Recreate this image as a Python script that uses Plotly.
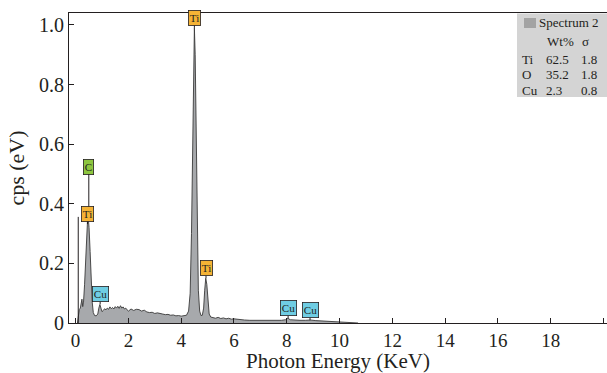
import plotly.graph_objects as go

# ---- data ----
energy = [0.07, 0.10, 0.14, 0.18, 0.21, 0.24, 0.27, 0.30, 0.34, 0.38, 0.42, 0.45, 0.48, 0.51, 0.55,
          0.59, 0.63, 0.67, 0.72, 0.78, 0.84, 0.88, 0.92, 0.96, 1.00, 1.05, 1.10, 1.15, 1.20, 1.25,
          1.30, 1.35, 1.40, 1.45, 1.50, 1.55, 1.60, 1.65, 1.70, 1.75, 1.80, 1.85, 1.90, 1.95, 2.00,
          2.10, 2.20, 2.30, 2.40, 2.50, 2.60, 2.70, 2.80, 2.90, 3.00, 3.10, 3.20, 3.30, 3.40, 3.50,
          3.60, 3.70, 3.80, 3.90, 4.00, 4.10, 4.20, 4.28, 4.34, 4.39, 4.43, 4.47, 4.50, 4.53, 4.57,
          4.61, 4.65, 4.70, 4.75, 4.80, 4.85, 4.89, 4.93, 4.97, 5.01, 5.06, 5.12, 5.20, 5.30, 5.40,
          5.50, 5.60, 5.70, 5.80, 5.90, 6.00, 6.20, 6.40, 6.60, 6.80, 7.00, 7.20, 7.40, 7.60, 7.80,
          7.95, 8.04, 8.13, 8.30, 8.50, 8.70, 8.90, 9.10, 9.30, 9.50, 9.70, 9.90, 10.10, 10.30, 10.50,
          10.70]
cps = [0.0, 0.03, 0.045, 0.05, 0.075, 0.08, 0.055, 0.07, 0.13, 0.22, 0.30, 0.34, 0.35, 0.32, 0.24,
       0.14, 0.07, 0.035, 0.025, 0.024, 0.03, 0.05, 0.062, 0.05, 0.038, 0.042, 0.048, 0.044, 0.05, 0.046,
       0.054, 0.048, 0.052, 0.047, 0.055, 0.05, 0.056, 0.049, 0.058, 0.05, 0.054, 0.047, 0.05, 0.044, 0.04,
       0.047, 0.042, 0.046, 0.045, 0.04, 0.043, 0.037, 0.035, 0.036, 0.032, 0.034, 0.031, 0.03, 0.028, 0.029,
       0.026, 0.027, 0.024, 0.025, 0.023, 0.024, 0.026, 0.04, 0.10, 0.30, 0.62, 0.92, 0.99, 0.90, 0.60,
       0.30, 0.11, 0.04, 0.025, 0.026, 0.05, 0.11, 0.15, 0.13, 0.07, 0.03, 0.02, 0.018, 0.016, 0.019,
       0.015, 0.017, 0.014, 0.016, 0.013, 0.014, 0.011, 0.010, 0.009, 0.009, 0.008, 0.008, 0.008, 0.008, 0.009,
       0.011, 0.016, 0.011, 0.009, 0.009, 0.009, 0.010, 0.008, 0.007, 0.007, 0.006, 0.005, 0.004, 0.003, 0.002,
       0.0]

strobe_x = [0.1, 0.1]
strobe_y = [0.0, 0.356]

peak_names = ["C", "Ti", "Ti", "Ti", "Cu", "Cu", "Cu"]
peak_x = [0.50, 0.45, 4.50, 4.94, 0.93, 8.05, 8.88]
peak_y = [0.35, 0.332, 0.99, 0.15, 0.063, 0.016, 0.009]
peak_rise = [-52, -10, -10, -10, -10, -10, -10]
peak_colors = {"Ti": "#f5b335", "C": "#8dc63f", "Cu": "#6fcde3"}

table_title = "Spectrum 2"
table_elements = ["Ti", "O", "Cu"]
table_wt = ["62.5", "35.2", "2.3"]
table_sigma = ["1.8", "1.8", "0.8"]

x_ticks = [0, 2, 4, 6, 8, 10, 12, 14, 16, 18, 20]
x_ticktext = ["0", "2", "4", "6", "8", "10", "12", "14", "16", "18", ""]
y_ticks = [0, 0.2, 0.4, 0.6, 0.8, 1.0]
y_ticktext = ["0", "0.2", "0.4", "0.6", "0.8", "1.0"]

INK = "#231f20"
FONT = "Liberation Serif, Times New Roman, serif"

W, H = 607, 373
ML, MR, MT, MB = 69, 0, 13, 50
PW, PH = W - ML - MR, H - MT - MB


def px(x):
    return (x - ML) / PW


def py(y):
    return (H - MB - y) / PH


fig = go.Figure()
fig.add_trace(go.Scatter(x=energy, y=cps, mode="lines", fill="tozeroy",
                         fillcolor="#a7a9ac", line=dict(color="#3a3a3a", width=0.9),
                         hoverinfo="skip", showlegend=False))
fig.add_trace(go.Scatter(x=strobe_x, y=strobe_y, mode="lines",
                         line=dict(color=INK, width=1), hoverinfo="skip", showlegend=False))

annotations = []
for name, x, y, rise in zip(peak_names, peak_x, peak_y, peak_rise):
    annotations.append(dict(
        x=x, y=y, xref="x", yref="y", text=name, showarrow=True,
        ax=0, ay=rise, arrowhead=0, arrowwidth=1, arrowcolor=INK,
        bgcolor=peak_colors[name], bordercolor=INK, borderwidth=0.8, borderpad=1,
        font=dict(family=FONT, size=11, color=INK)))

# legend table
shapes = [
    dict(type="rect", xref="paper", yref="paper", x0=px(517), x1=1.0, y0=py(97), y1=py(13.5),
         fillcolor="#d4d4d4", line=dict(width=0), layer="above"),
    dict(type="rect", xref="paper", yref="paper", x0=px(524), x1=px(536), y0=py(28), y1=py(18),
         fillcolor="#a3a3a3", line=dict(width=0), layer="above"),
]
tfont = dict(family=FONT, size=13, color=INK)
annotations.append(dict(x=px(537), y=py(23), xref="paper", yref="paper", text=table_title,
                        showarrow=False, xanchor="left", yanchor="middle", font=tfont))
annotations.append(dict(x=px(545), y=py(41), xref="paper", yref="paper", text="Wt%",
                        showarrow=False, xanchor="left", yanchor="middle", font=tfont))
annotations.append(dict(x=px(580), y=py(41), xref="paper", yref="paper", text="σ",
                        showarrow=False, xanchor="left", yanchor="middle", font=tfont))
for i, (el, wt, sg) in enumerate(zip(table_elements, table_wt, table_sigma)):
    yy = py(59 + i * 15.5)
    annotations.append(dict(x=px(520), y=yy, xref="paper", yref="paper", text=el,
                            showarrow=False, xanchor="left", yanchor="middle", font=tfont))
    annotations.append(dict(x=px(544), y=yy, xref="paper", yref="paper", text=wt,
                            showarrow=False, xanchor="left", yanchor="middle", font=tfont))
    annotations.append(dict(x=px(579), y=yy, xref="paper", yref="paper", text=sg,
                            showarrow=False, xanchor="left", yanchor="middle", font=tfont))

# x axis title
annotations.append(dict(x=0.5, y=py(361), xref="paper", yref="paper", text="Photon Energy (KeV)",
                        showarrow=False, xanchor="center", yanchor="middle",
                        font=dict(family=FONT, size=21, color=INK)))

fig.update_layout(
    width=W, height=H,
    margin=dict(l=ML, r=MR, t=MT, b=MB, pad=0, autoexpand=False),
    paper_bgcolor="white", plot_bgcolor="white",
    font=dict(family=FONT, color=INK),
    showlegend=False,
    shapes=shapes, annotations=annotations,
    xaxis=dict(range=[-0.25, 20.13], tickvals=x_ticks, ticktext=x_ticktext,
               ticks="inside", ticklen=5, tickcolor=INK, tickwidth=1,
               showline=True, linecolor=INK, linewidth=1, mirror=True,
               showgrid=False, zeroline=False, automargin=False,
               ticklabelstandoff=0,
               tickfont=dict(family=FONT, size=19, color=INK)),
    yaxis=dict(range=[0, 1.04], tickvals=y_ticks, ticktext=y_ticktext,
               ticks="inside", ticklen=5, tickcolor=INK, tickwidth=1,
               showline=True, linecolor=INK, linewidth=1,
               showgrid=False, zeroline=False, automargin=False,
               tickfont=dict(family=FONT, size=20, color=INK),
               title=dict(text="cps (eV)", font=dict(family=FONT, size=22, color=INK), standoff=8)),
)

fig.write_html("out.html", config={"displayModeBar": False},
               post_script="document.body.style.margin='0';document.body.style.padding='0';")
